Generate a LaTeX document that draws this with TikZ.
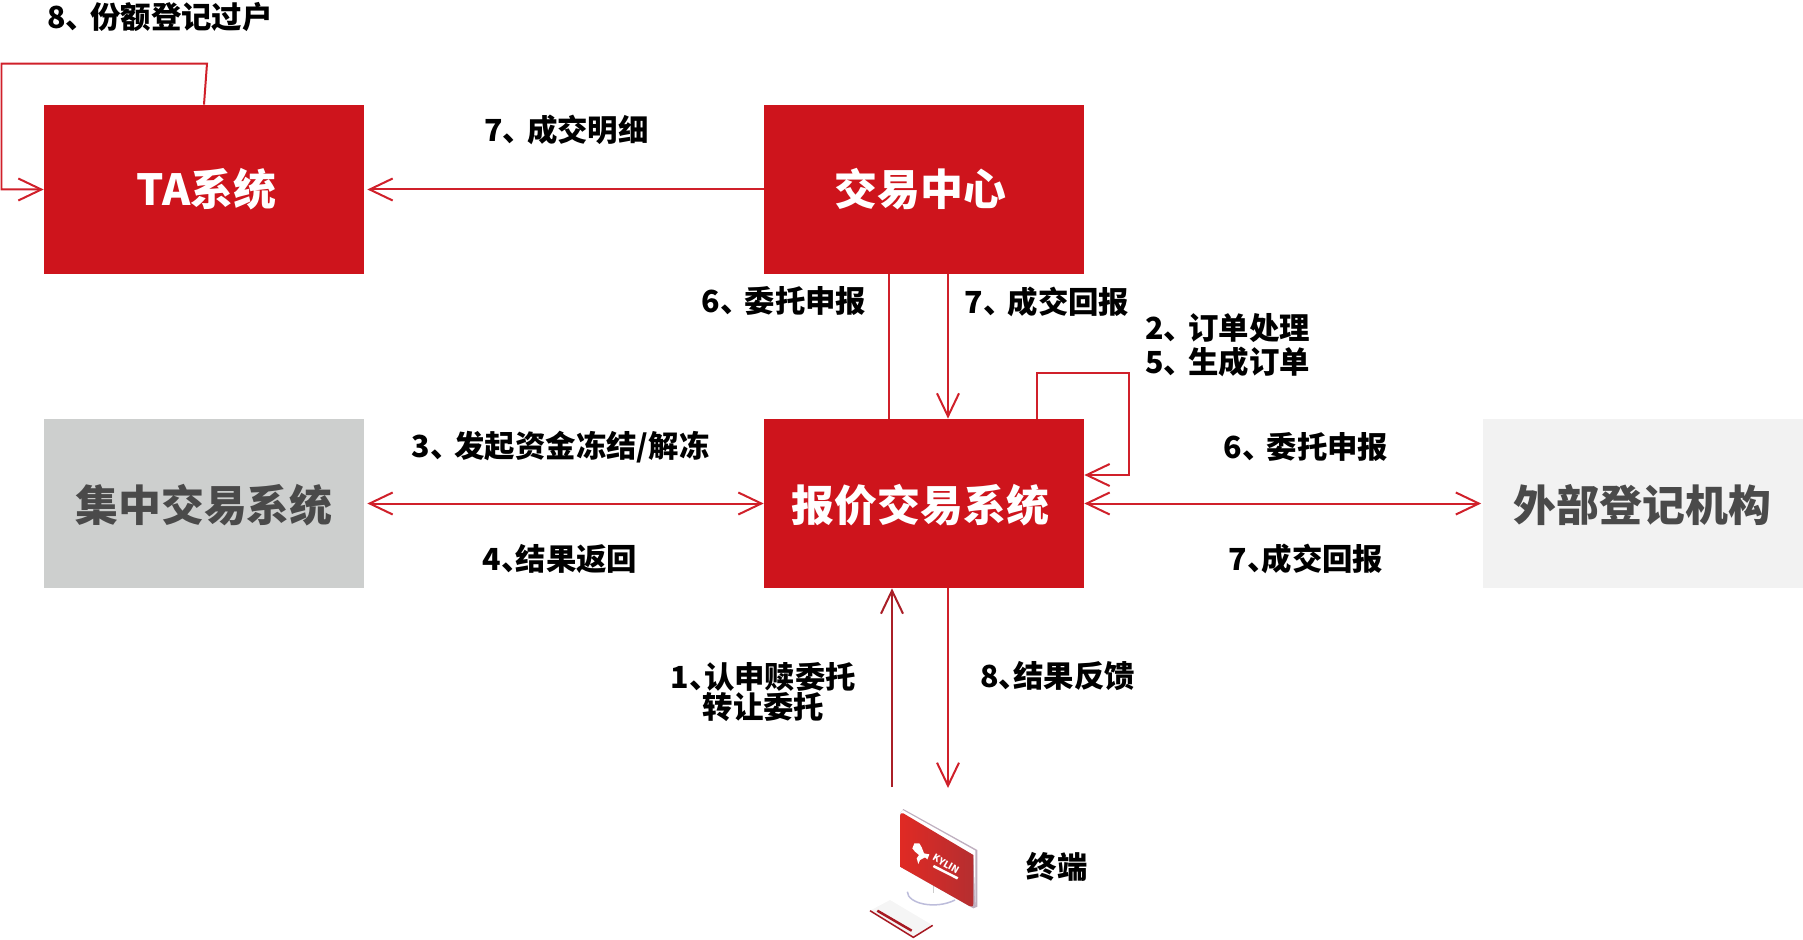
\documentclass[tikz,border=0pt]{standalone}
\usepackage{fontspec}
\setmainfont{Noto Sans CJK SC}
\usetikzlibrary{arrows.meta}
\definecolor{boxred}{HTML}{CE141C}
\definecolor{linered}{HTML}{D0202A}
\definecolor{darkline}{HTML}{AA1F27}
\definecolor{boxgray}{HTML}{CDCFCE}
\definecolor{boxlight}{HTML}{F2F2F2}
\definecolor{boxtext}{HTML}{4A4A4A}
\definecolor{screenl}{HTML}{E02A24}
\definecolor{screenr}{HTML}{B52E30}
\newcommand{\lblsep}{、\kern-.2em}
\newcommand{\lblsept}{、\kern-.52em}
\tikzset{
  sysbox/.style={minimum width=6.4cm, minimum height=3.38cm, inner sep=0pt, font=\fontsize{24.4}{28}\selectfont\bfseries},
  redbox/.style={sysbox, fill=boxred, text=white},
  graybox/.style={sysbox, fill=boxgray, text=boxtext},
  lightbox/.style={sysbox, fill=boxlight, text=boxtext},
  lowtext/.style={text height=0.8cm, text depth=0.08cm},
  lbl/.style={inner sep=0pt, align=center, font=\fontsize{17.3}{19.5}\selectfont\bfseries},
  conn/.style={linered, line width=0.04cm}
}

\begin{document}
\begin{tikzpicture}[>={Straight Barb[length=0.46cm, width=0.44cm]}]
    \useasboundingbox (0, 0) rectangle (36.06, 18.78);

    \node [redbox] (ta) at (4.08, 14.99) {\kern.1cm TA系统};
    \node [redbox] (center) at (18.48, 14.99) {交易中心\kern.14cm};
    \node [graybox, lowtext] (central) at (4.08, 8.71) {集中交易系统};
    \node [redbox, lowtext] (quote) at (18.48, 8.71) {报价交易系统\kern.14cm};
    \node [lightbox, lowtext] (ext) at (32.85, 8.71) {外部登记机构};

    \coordinate (termup) at (17.84, 3.04);
    \coordinate (termdown) at (18.96, 3.02);

    % loops
    \draw [conn, ->] (ta.north) -- ++(0.06, 0.82) -| (0.03, 14.99) -- (ta.west);
    \draw [conn, ->] ([xshift=2.26cm]quote.north) |- (22.58, 11.32) |- ([yshift=0.57cm]quote.east);

    % straight connectors
    \draw [conn, ->, shorten >=0.06cm] (center.west) -- (ta.east);
    \draw [conn] ([xshift=-0.7cm]center.south) -- ([xshift=-0.7cm]quote.north);
    \draw [conn, ->] ([xshift=0.48cm]center.south) -- ([xshift=0.48cm]quote.north);
    \draw [conn, <->, shorten <=0.06cm] (central.east) -- (quote.west);
    \draw [conn, <->, shorten >=0.02cm] (quote.east) -- (ext.west);
    \draw [conn, darkline, ->] (termup) -- (termup |- quote.south);
    \draw [conn, ->] (termdown |- quote.south) -- (termdown);

    % labels
    \node [lbl] (l8a) at (3.2, 18.44) {8\lblsep 份额登记过户};
    \node [lbl] (l7a) at (11.33, 16.18) {7\lblsep 成交明细};
    \node [lbl] (l6a) at (15.68, 12.75) {6\lblsep 委托申报};
    \node [lbl] (l7b) at (20.94, 12.75) {7\lblsep 成交回报};
    \node [lbl, align=left, anchor=west] (l25) at (22.9, 11.88) {2\lblsep 订单处理\\5\lblsep 生成订单};
    \node [lbl] (l3) at (11.21, 9.84) {3\lblsep 发起资金冻结/解冻};
    \node [lbl] (l4) at (11.2, 7.6) {4\lblsept 结果返回};
    \node [lbl] (l6b) at (26.12, 9.84) {6\lblsep 委托申报};
    \node [lbl] (l7c) at (26.12, 7.6) {7\lblsept 成交回报};
    \node [lbl, font=\fontsize{17.3}{17.5}\selectfont\bfseries] (l1) at (15.27, 4.94) {1\lblsept 认申赎委托\\转让委托};
    \node [lbl] (l8b) at (21.15, 5.26) {8\lblsept 结果反馈};
    \node [lbl] (lterm) at (21.14, 1.44) {终端};

    % terminal, units are 1/3 pixel from the corner of the crop
    \begin{scope}[shift={(16.4, 3.58)}, x=0.00667cm, y=-0.00667cm]
        \fill [black!4] (150, 452) -- (280, 532) -- (338, 496) -- (210, 420) -- cycle;
        \draw [linered!80!black, line width=0.03cm] (150, 452) -- (280, 532) -- (338, 496);
        \draw [linered!80!black, line width=0.05cm] (172, 452) -- (275, 512);
        \draw [line width=0.02cm, black!20] (340, 375) -- (340, 400);
        \draw [line width=0.03cm, blue!30!gray!40, fill=white] (262, 395) .. controls (262, 430) and (345, 450) .. (405, 420);
        \fill [violet!25!gray!50] (250, 147) -- (472, 270) -- (472, 440) -- (460, 445) -- (240, 320) -- (240, 160) -- cycle;
        \fill [white] (248, 150) -- (466, 272) -- (466, 435) -- (460, 285) -- (240, 160) -- cycle;
        \shade [left color=screenl, right color=screenr] (240, 168) .. controls (240, 160) and (245, 158) .. (250, 160) -- (460, 285) -- (460, 430) .. controls (460, 440) and (455, 442) .. (448, 438) -- (240, 320) -- cycle;
        \fill [white] (277, 265) -- (283, 250) -- (298, 250) -- (305, 262) -- (312, 280) -- (328, 283) -- (322, 298) -- (315, 292) -- (300, 300) -- (295, 312) -- (290, 295) -- (297, 285) -- (285, 275) -- cycle;
        \node [text=white, inner sep=0pt, font=\fontsize{5.4}{6}\selectfont\bfseries, rotate=-30] (logo) at (378, 312) {KYLIN};
        \draw [white, line width=0.05cm] (340, 318) -- (413, 355);
    \end{scope}
\end{tikzpicture}
\end{document}
